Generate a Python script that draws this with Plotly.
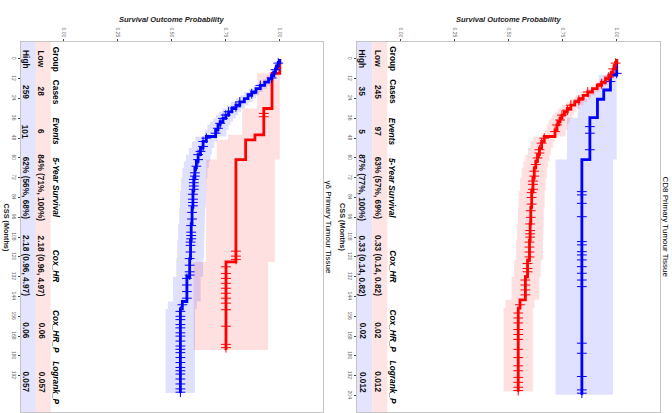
import numpy as np
import plotly.graph_objects as go

# ---------------- data ----------------
# gamma-delta primary tumour tissue
gd_high_t = [0, 2, 4, 6, 8, 10, 12, 14, 16, 18, 20, 22, 24, 26, 28, 30, 32, 34, 36, 38, 40, 43, 47, 50,
             54, 58, 62, 66, 72, 80, 90, 100, 110, 121, 132, 147, 151.5]
gd_high_s = [1.0, 0.993, 0.987, 0.98, 0.972, 0.962, 0.948, 0.93, 0.91, 0.89, 0.87, 0.853, 0.836, 0.815,
             0.797, 0.778, 0.763, 0.75, 0.737, 0.724, 0.714, 0.703, 0.66, 0.645, 0.633, 0.622, 0.614,
             0.607, 0.602, 0.598, 0.594, 0.59, 0.587, 0.583, 0.57, 0.549, 0.54]
gd_high_lo = [1.0, 0.983, 0.973, 0.963, 0.952, 0.94, 0.922, 0.902, 0.879, 0.857, 0.835, 0.816, 0.797,
              0.774, 0.755, 0.734, 0.718, 0.704, 0.69, 0.676, 0.665, 0.653, 0.609, 0.593, 0.58, 0.565,
              0.556, 0.549, 0.543, 0.538, 0.534, 0.529, 0.525, 0.521, 0.506, 0.482, 0.472]
gd_high_hi = [1.0, 1.0, 1.0, 0.997, 0.992, 0.984, 0.974, 0.958, 0.941, 0.923, 0.905, 0.89, 0.875, 0.856,
              0.839, 0.822, 0.808, 0.796, 0.784, 0.772, 0.763, 0.753, 0.711, 0.697, 0.686, 0.679,
              0.672, 0.665, 0.661, 0.658, 0.654, 0.651, 0.649, 0.645, 0.634, 0.616, 0.608]
gd_high_end = 202.5
gd_high_cens = [2.5, 6.5, 11.5, 16, 21, 26, 29, 32, 34, 36, 39, 42, 45, 48, 50, 53, 56, 58, 61, 65, 69,
                71, 73, 75, 77, 79, 82, 85, 87, 89, 93, 97, 101, 105, 107, 109, 111, 113, 117, 121, 125,
                129, 131, 133, 137, 141, 145, 149, 153, 156, 158, 161, 163, 166, 168, 171, 174, 176,
                178, 181, 184, 187, 189, 191, 194, 197, 200, 202]

gd_low_t = [0, 8.7, 30, 46, 49, 61, 123]
gd_low_s = [1.0, 0.964, 0.926, 0.885, 0.842, 0.797, 0.751]
gd_low_lo = [1.0, 0.895, 0.826, 0.76, 0.708, 0.659, 0.601]
gd_low_hi = [1.0, 1.0, 1.0, 1.0, 1.0, 0.977, 0.946]
gd_low_end = 176.4
gd_low_cens = [33, 35, 116.5, 119.5, 121.5, 126, 130, 133, 136, 139, 142, 145, 148, 152, 162, 173, 175]

# CD8 primary tumour tissue
cd8_low_t = [0, 2, 4, 6, 8, 10, 12, 14, 16, 18, 20, 22, 24, 26, 28, 30, 32, 34, 36, 38, 40, 43, 47, 50,
             54, 58, 62, 66, 72, 80, 90, 100, 110, 122, 132, 146, 151]
cd8_low_s = [1.0, 0.995, 0.99, 0.984, 0.975, 0.963, 0.948, 0.93, 0.91, 0.888, 0.866, 0.845, 0.825,
             0.806, 0.788, 0.772, 0.758, 0.747, 0.738, 0.731, 0.724, 0.715, 0.665, 0.653, 0.643, 0.634,
             0.626, 0.619, 0.613, 0.607, 0.603, 0.6, 0.597, 0.588, 0.578, 0.553, 0.545]
cd8_low_lo = [1.0, 0.985, 0.977, 0.968, 0.956, 0.941, 0.923, 0.902, 0.88, 0.856, 0.832, 0.809, 0.787,
              0.766, 0.747, 0.729, 0.714, 0.702, 0.692, 0.684, 0.676, 0.666, 0.614, 0.601, 0.59, 0.578,
              0.569, 0.561, 0.554, 0.547, 0.543, 0.539, 0.535, 0.526, 0.514, 0.486, 0.477]
cd8_low_hi = [1.0, 1.0, 1.0, 1.0, 0.994, 0.985, 0.973, 0.958, 0.94, 0.92, 0.9, 0.881, 0.863, 0.846,
              0.829, 0.815, 0.802, 0.792, 0.784, 0.778, 0.772, 0.764, 0.716, 0.705, 0.696, 0.69, 0.683,
              0.677, 0.672, 0.667, 0.663, 0.661, 0.659, 0.65, 0.642, 0.62, 0.613]
cd8_low_end = 201.6
cd8_low_cens = [2.5, 6, 11, 15, 20, 25, 28, 31, 34, 37, 40, 44, 48, 51, 55, 57, 60, 64, 68, 71, 74, 76,
                79, 81, 84, 88, 92, 96, 100, 104, 106, 108, 111, 114, 117, 120, 124, 127, 129, 134,
                137, 140, 143, 149, 154, 157, 160, 164, 167, 170, 176, 181, 186, 189, 193, 196, 199, 201]

cd8_high_t = [0, 9.7, 18.8, 24.4, 35.6, 61]
cd8_high_s = [1.0, 0.971, 0.94, 0.911, 0.876, 0.839]
cd8_high_lo = [1.0, 0.917, 0.865, 0.82, 0.77, 0.717]
cd8_high_hi = [1.0, 1.0, 1.0, 1.0, 1.0, 0.983]
cd8_high_end = 203.6
cd8_high_cens = [8.7, 13.7, 41, 45, 55, 80.4, 82.4, 87.5, 95.6, 110.7, 112.7, 116.8, 118.8, 121.8,
                 125.9, 129.9, 134, 138, 172.3, 178.4, 192.5, 200.6, 202.6]

# summary table
table_cols = ["Group", "Cases", "Events", "5-Year Survival", "Cox_HR", "Cox_HR_P", "Logrank_P"]
table_col_t = [0, 20, 44, 78, 125.5, 165, 196]
gd_table = {
    "Low": ["Low", "28", "6", "84% (71%, 100%)", "2.18 (0.96, 4.97)", "0.06", "0.057"],
    "High": ["High", "259", "101", "62% (56%, 68%)", "2.18 (0.96, 4.97)", "0.06", "0.057"],
}
cd8_table = {
    "Low": ["Low", "245", "97", "63% (57%, 69%)", "0.33 (0.14, 0.82)", "0.02", "0.012"],
    "High": ["High", "35", "5", "87% (77%, 100%)", "0.33 (0.14, 0.82)", "0.02", "0.012"],
}

prob_ticks = [0, 0.25, 0.5, 0.75, 1.0]
gd_time_ticks = list(range(0, 193, 12))
cd8_time_ticks = list(range(0, 205, 12))

# ---------------- style ----------------
RED = "#FF0000"
BLUE = "#0000FF"
RED_BAND = "rgba(255,0,0,0.12)"
BLUE_BAND = "rgba(0,0,255,0.12)"
FONT = "Liberation Sans, Arial, sans-serif"
W, H = 672, 413
PROB_RANGE = [-0.2, 1.2]
TIME_RANGE = [214, -10.3]
ROW_P = {"header": -0.035, "Low": -0.103, "High": -0.175}

panels = [
    dict(x0=20.5, x1=323, xa="x", ya="y", title="γδ Primary Tumour Tissue", ticks=gd_time_ticks,
         table=gd_table,
         curves=[(gd_low_t, gd_low_s, gd_low_lo, gd_low_hi, gd_low_end, gd_low_cens, RED, RED_BAND),
                 (gd_high_t, gd_high_s, gd_high_lo, gd_high_hi, gd_high_end, gd_high_cens, BLUE, BLUE_BAND)]),
    dict(x0=357, x1=660, xa="x2", ya="y2", title="CD8 Primary Tumour Tissue", ticks=cd8_time_ticks,
         table=cd8_table,
         curves=[(cd8_high_t, cd8_high_s, cd8_high_lo, cd8_high_hi, cd8_high_end, cd8_high_cens, BLUE, BLUE_BAND),
                 (cd8_low_t, cd8_low_s, cd8_low_lo, cd8_low_hi, cd8_low_end, cd8_low_cens, RED, RED_BAND)]),
]


def band_polygon(t, lo, hi, t_end):
    xs, ys = [], []
    n = len(t)
    for i in range(n):
        t1 = t[i + 1] if i + 1 < n else t_end
        xs += [hi[i], hi[i]]
        ys += [t[i], t1]
    for i in reversed(range(n)):
        t1 = t[i + 1] if i + 1 < n else t_end
        xs += [lo[i], lo[i]]
        ys += [t1, t[i]]
    return xs, ys


fig = go.Figure()
annotations = []
shapes = []

for k, pnl in enumerate(panels):
    xa, ya = pnl["xa"], pnl["ya"]
    # confidence bands first
    for (t, s, lo, hi, t_end, cens, col, band) in pnl["curves"]:
        bx, by = band_polygon(t, lo, hi, t_end)
        fig.add_trace(go.Scatter(x=bx, y=by, mode="lines", fill="toself", fillcolor=band,
                                 line=dict(width=0), hoverinfo="skip", showlegend=False,
                                 xaxis=xa, yaxis=ya))
    # survival curves + censor marks
    for (t, s, lo, hi, t_end, cens, col, band) in pnl["curves"]:
        fig.add_trace(go.Scatter(x=list(s) + [s[-1]], y=list(t) + [t_end], mode="lines",
                                 line=dict(color=col, width=2.8, shape="vh"),
                                 showlegend=False, xaxis=xa, yaxis=ya))
        idx = np.searchsorted(np.array(t), np.array(cens), side="right") - 1
        fig.add_trace(go.Scatter(x=np.array(s)[idx], y=cens, mode="markers",
                                 marker=dict(symbol="cross-thin", size=7,
                                             line=dict(color=col, width=1)),
                                 showlegend=False, xaxis=xa, yaxis=ya))

    # table row backgrounds
    shapes.append(dict(type="rect", xref=xa, yref=f"{ya} domain", x0=-0.2, x1=-0.129, y0=0, y1=1,
                       fillcolor="#E4E4FF", line=dict(width=0), layer="below"))
    shapes.append(dict(type="rect", xref=xa, yref=f"{ya} domain", x0=-0.129, x1=-0.06, y0=0, y1=1,
                       fillcolor="#FFE4E4", line=dict(width=0), layer="below"))

    # table text
    for j, (hdr, tc) in enumerate(zip(table_cols, table_col_t)):
        txt = f"<b>{hdr}</b>" if j < 2 else f"<b><i>{hdr}</i></b>"
        annotations.append(dict(x=ROW_P["header"], y=tc, xref=xa, yref=ya, text=txt, showarrow=False,
                                textangle=90, xanchor="center", yanchor="middle",
                                font=dict(family=FONT, size=8.3, color="black")))
        for row in ["Low", "High"]:
            annotations.append(dict(x=ROW_P[row], y=tc, xref=xa, yref=ya,
                                    text=f"<b>{pnl['table'][row][j]}</b>", showarrow=False,
                                    textangle=90, xanchor="center", yanchor="middle",
                                    font=dict(family=FONT, size=8.3, color="#111111")))

    cx = (pnl["x0"] + pnl["x1"]) / 2 / W
    annotations.append(dict(x=cx, y=1 - 20 / H, xref="paper", yref="paper",
                            text="<b><i>Survival Outcome Probability</i></b>", showarrow=False,
                            xanchor="center", yanchor="middle",
                            font=dict(family=FONT, size=7.5, color="#222222")))
    annotations.append(dict(x=(pnl["x0"] - 15) / W, y=1 - 227 / H, xref="paper", yref="paper",
                            text="<b>CSS (Months)</b>", showarrow=False, textangle=90,
                            xanchor="center", yanchor="middle",
                            font=dict(family=FONT, size=7.3, color="#222222")))
    annotations.append(dict(x=(pnl["x1"] + 4.5) / W, y=1 - 227 / H, xref="paper", yref="paper",
                            text=pnl["title"], showarrow=False, textangle=90,
                            xanchor="center", yanchor="middle",
                            font=dict(family=FONT, size=8, color="black")))

    axis_common = dict(showgrid=False, zeroline=False, showline=True, mirror=True,
                       linecolor="#c4c4c4", linewidth=1, ticks="outside", ticklen=2,
                       tickcolor="#444444", tickwidth=1, tickangle=90,
                       tickfont=dict(family=FONT, size=5, color="#666666"))
    xkey = "xaxis" if k == 0 else "xaxis2"
    ykey = "yaxis" if k == 0 else "yaxis2"
    fig.update_layout(**{
        xkey: dict(axis_common, domain=[pnl["x0"] / W, pnl["x1"] / W], range=PROB_RANGE,
                   side="top", anchor=ya, tickvals=prob_ticks,
                   ticktext=[f"{v:.2f}" for v in prob_ticks]),
        ykey: dict(axis_common, domain=[1 / H, 1 - 42 / H], range=TIME_RANGE, side="left",
                   anchor=xa, tickvals=pnl["ticks"], ticktext=[str(v) for v in pnl["ticks"]]),
    })

fig.update_layout(width=W, height=H, margin=dict(l=0, r=0, t=0, b=0),
                  paper_bgcolor="white", plot_bgcolor="white",
                  annotations=annotations, shapes=shapes, showlegend=False)

fig.write_html("out.html")
